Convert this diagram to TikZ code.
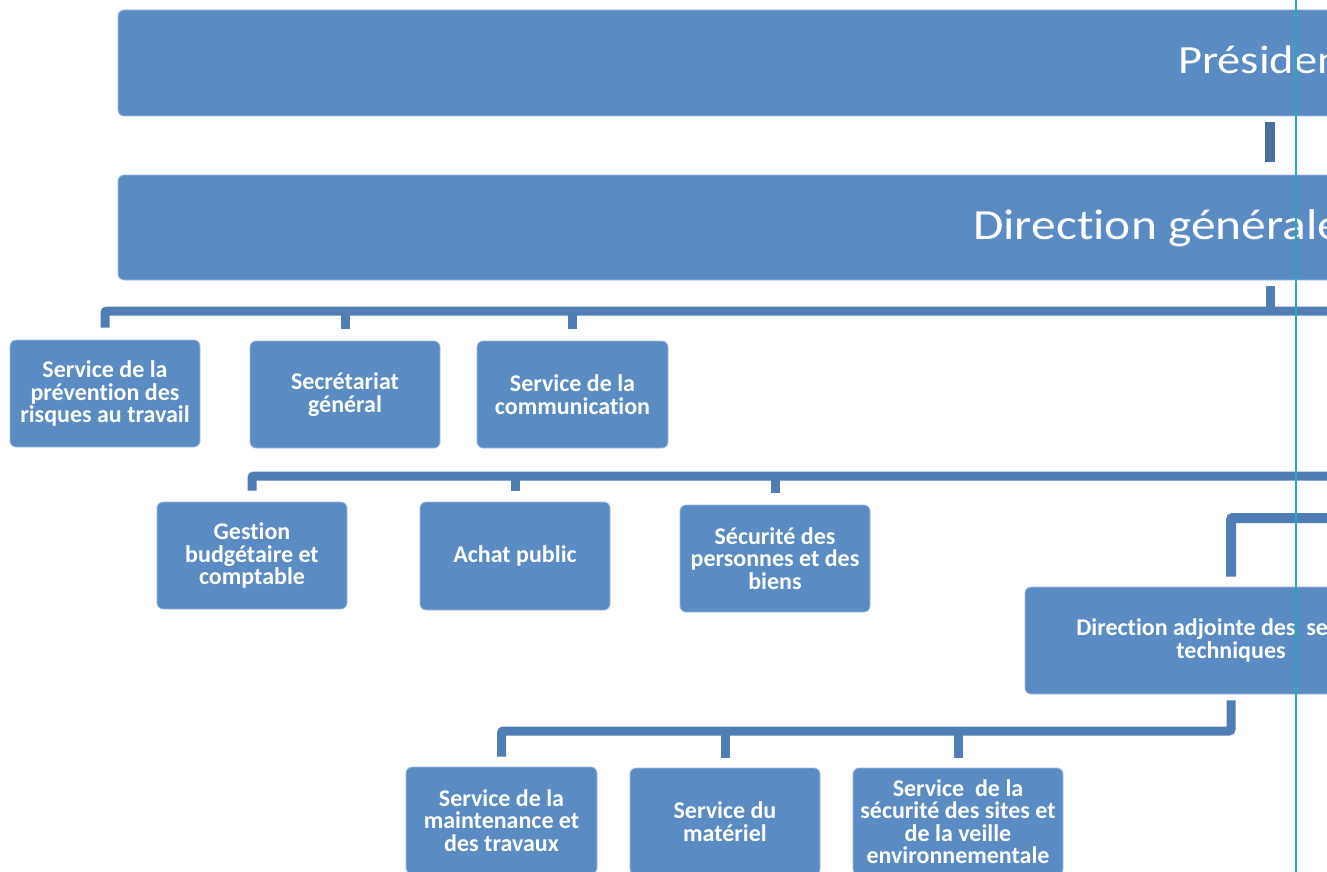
\documentclass[tikz,border=0pt]{standalone}
\usepackage{fontspec}
\setmainfont{Carlito}[RawFeature={-liga;-clig;-dlig;-calt}]
\usepackage{graphicx}
\definecolor{boxblue}{RGB}{90,139,195}
\definecolor{boxedge}{RGB}{160,188,224}
\definecolor{connblue}{RGB}{79,125,180}
\definecolor{conndark}{RGB}{74,110,158}
\definecolor{guideteal}{RGB}{40,168,180}
\begin{document}
\begin{tikzpicture}[x=1pt,y=-1pt,
  orgbox/.style={draw=boxedge, line width=0.8pt, fill=boxblue, rounded corners=6pt,
    text=white, align=center, inner sep=0pt, font=\fontsize{24}{22.5}\selectfont\bfseries},
  bigtext/.style={anchor=base west, inner sep=0pt, text=white},
  conn/.style={draw=connblue, line width=9pt, rounded corners=2pt, line cap=butt, line join=miter}]
\useasboundingbox (0,0) rectangle (1327,872);
\clip (0,0) rectangle (1327,872);
\fill[white] (0,0) rectangle (1327,872);

% top boxes
\node[orgbox, minimum width=2304pt, minimum height=106pt] (pr) at (1270,63) {};
\node[orgbox, minimum width=2304pt, minimum height=105pt] (dg) at (1270,227.5) {};
\node[bigtext] (prt) at (1178,74) {\scalebox{1.16}[1]{\fontsize{40}{48}\selectfont Président}};
\node[bigtext] (dgt) at (973,239.5) {\scalebox{1.15}[1]{\fontsize{43}{50}\selectfont Direction générale}};

% row 1
\node[orgbox, minimum width=190pt, minimum height=107pt] (b1) at (105,393.5) {Service de la\\prévention des\\risques au travail};
\node[orgbox, minimum width=190pt, minimum height=107pt] (b2) at (345,394.5) {Secrétariat\\général};
\node[orgbox, minimum width=191pt, minimum height=107pt] (b3) at (572.5,394.5) {Service de la\\communication};

% row 2
\node[orgbox, minimum width=190pt, minimum height=107pt] (c1) at (252,555.5) {Gestion\\budgétaire et\\comptable};
\node[orgbox, minimum width=190pt, minimum height=108pt] (c2) at (515,556) {Achat public};
\node[orgbox, minimum width=190pt, minimum height=107pt] (c3) at (775,558.5) {Sécurité des\\personnes et des\\biens};

% direction adjointe
\node[orgbox, minimum width=412pt, minimum height=107pt] (da) at (1231,640.5) {Direction adjointe des\ \ services\\techniques};

% row 3
\node[orgbox, minimum width=191pt, minimum height=107pt] (d1) at (501.5,820.5) {Service de la\\maintenance et\\des travaux};
\node[orgbox, minimum width=190pt, minimum height=107pt] (d2) at (725,821.5) {Service du\\matériel};
\node[orgbox, minimum width=210pt, minimum height=107pt] (d3) at (958,821.5) {Service\ \ de la\\sécurité des sites et\\de la veille\\environnementale};

% connectors
\coordinate (busA) at (1340,311);
\coordinate (busB) at (1340,476);
\coordinate (busC) at (1340,518);
\coordinate (busD) at (0,731);

\draw[conn, draw=conndark, line width=10pt] ([yshift=-6pt]pr.south) -- ([yshift=13pt]dg.north);

\draw[conn] ([yshift=-6pt]dg.south) -- (dg.south |- busA);
\draw[conn] ([yshift=12pt]b1.north) |- (busA);
\draw[conn] ([yshift=12pt]b2.north) -- (b2.north |- busA);
\draw[conn] ([yshift=12pt]b3.north) -- (b3.north |- busA);

\draw[conn] ([yshift=11pt]c1.north) |- (busB);
\draw[conn] ([yshift=11pt]c2.north) -- (c2.north |- busB);
\draw[conn] ([yshift=12pt]c3.north) -- (c3.north |- busB);

\draw[conn, line width=10pt] ([yshift=10pt]da.north) |- (busC);

\draw[conn] ([yshift=-6pt]da.south) |- (d1.north |- busD) -- ([yshift=10pt]d1.north);
\draw[conn] ([yshift=10pt]d2.north) -- (d2.north |- busD);
\draw[conn] ([yshift=10pt]d3.north) -- (d3.north |- busD);

% guide line
\coordinate (gtop) at (1296,0);
\coordinate (gbot) at (1296,872);
\draw[guideteal, line width=2pt] (gtop) -- (gbot);
\end{tikzpicture}
\end{document}
